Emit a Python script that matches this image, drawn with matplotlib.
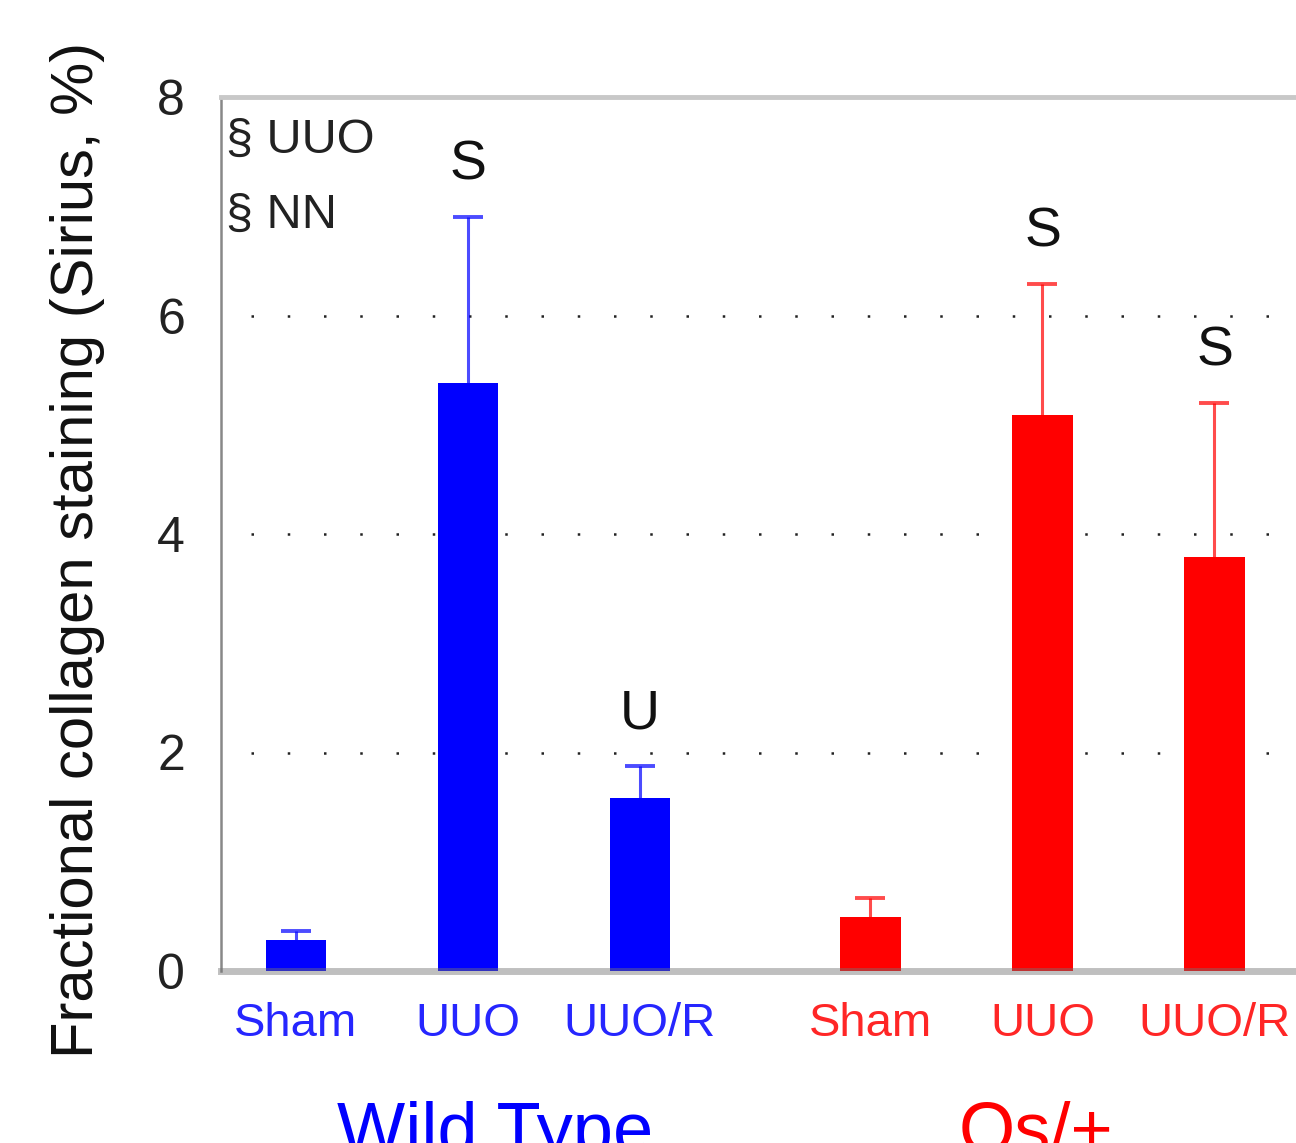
import matplotlib.pyplot as plt
import numpy as np

plt.rcParams['font.family'] = ['Liberation Sans', 'DejaVu Sans']

# bar data: fractional collagen staining (%), mean and upper error
groups = ['Wild Type', 'Os/+']
conditions = ['Sham', 'UUO', 'UUO/R', 'Sham', 'UUO', 'UUO/R']
means = [0.28, 5.38, 1.58, 0.49, 5.09, 3.79]
errors = [0.09, 1.52, 0.30, 0.18, 1.20, 1.41]
sig_labels = ['', 'S', 'U', '', 'S', 'S']
bar_colors = ['#0000ff'] * 3 + ['#ff0000'] * 3
group_colors = ['#0000ff', '#ff0000']

# positions: three bars per genotype with a wider gap between the genotypes
x = np.array([0, 1, 2, 3.34, 4.34, 5.34])
group_x = [1.16, 4.30]

fig = plt.figure(figsize=(12.96, 11.43), dpi=100)
ax = fig.add_axes([221 / 1296, 1 - 971 / 1143, (1328 - 221) / 1296, (971 - 97) / 1143])

ax.hlines([2, 4, 6], -0.26, 6.0, colors='#222222', linewidth=1.8,
          linestyles=(0, (1, 13.5)), zorder=0)

ax.bar(x, means, width=0.35, color=bar_colors, zorder=1)
for xi, m, e, c in zip(x, means, errors, bar_colors):
    _, caps, _ = ax.errorbar(xi, m, yerr=[[0], [e]], fmt='none', ecolor=c, alpha=0.7,
                             elinewidth=2.2, capsize=11, capthick=2.8, zorder=2)
    caps[0].set_visible(False)  # upper error only

for xi, m, e, lab in zip(x, means, errors, sig_labels):
    if lab:
        ax.annotate(lab, (xi, m + e), xytext=(0, 27), textcoords='offset points',
                    ha='center', va='baseline', fontsize=40, color='#111111')

ax.text(-0.407, 7.6, '§ UUO', fontsize=35, color='#222222', va='center', ha='left')
ax.text(-0.407, 6.92, '§ NN', fontsize=35, color='#222222', va='center', ha='left')

ax.set_xlim(-0.436, 6.0)
ax.set_ylim(0, 8)
ax.set_yticks([0, 2, 4, 6, 8])
ax.tick_params(axis='y', length=0, pad=26, labelsize=36, labelcolor='#222222')
ax.set_xticks(x)
ax.set_xticklabels(conditions, fontsize=34)
ax.tick_params(axis='x', length=0, pad=22)
for lbl, c in zip(ax.get_xticklabels(), bar_colors):
    lbl.set_color(c)
    lbl.set_alpha(0.85)

for gx, g, c in zip(group_x, groups, group_colors):
    ax.text(gx, -0.149, g, transform=ax.get_xaxis_transform(), fontsize=52,
            color=c, ha='center', va='top')

ax.spines['left'].set_color('#888888')
ax.spines['left'].set_linewidth(1.8)
ax.spines['top'].set_color('#c8c8c8')
ax.spines['top'].set_linewidth(3.5)
ax.spines['bottom'].set_color((0.45, 0.45, 0.45, 0.45))
ax.spines['bottom'].set_linewidth(5)
ax.spines['right'].set_visible(False)

fig.text(78 / 1296, 1 - 550 / 1143, 'Fractional collagen staining (Sirius, %)',
         rotation=90, fontsize=43, color='#111111', ha='center', va='center')

fig.savefig('out.png', dpi=100)
